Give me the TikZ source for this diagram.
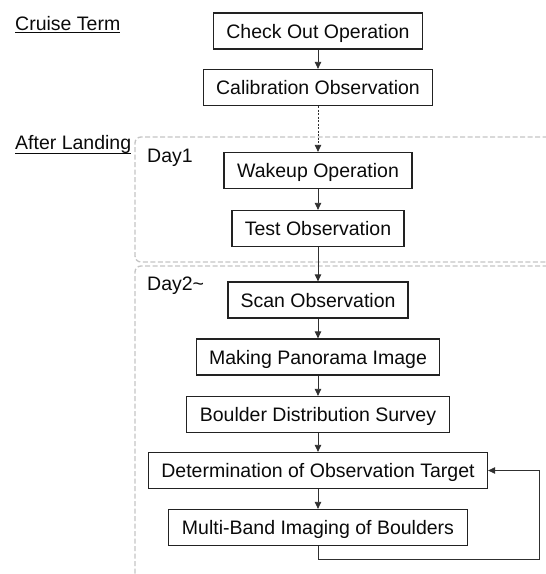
\documentclass[tikz,border=0pt]{standalone}
\usepackage{fontspec}
\setmainfont{Liberation Sans}
\usetikzlibrary{arrows.meta}
\definecolor{boxc}{HTML}{222222}
\definecolor{linec}{HTML}{303030}
\definecolor{framec}{HTML}{C4C4C4}
\definecolor{txt}{HTML}{0A0A0A}
\begin{document}
\begin{tikzpicture}[x=1pt,y=-1pt,
 box/.style={draw=boxc,line width=1.3pt,minimum height=36pt,inner xsep=0pt,inner ysep=0pt,text height=14pt,text depth=0pt,font=\fontsize{19.5}{23}\selectfont,text=txt},
 lbl/.style={anchor=base west,inner sep=0pt,font=\fontsize{19.5}{23}\selectfont,text=txt},
 arr/.style={draw=linec,line width=0.8pt,-{Triangle[length=7pt,width=6.5pt]}},
 frame/.style={draw=framec,line width=1.3pt,dash pattern=on 5pt off 2.5pt,rounded corners=6pt},
 uline/.style={draw=txt,line width=1pt}]
\useasboundingbox (0,0) rectangle (546,574);
\begin{scope}
\clip (0,0) rectangle (546,574);
\draw[frame] (570,137) -- (135,137) -- (135,262) -- (570,262);
\draw[frame] (570,266) -- (135,266) -- (135,600);
\end{scope}
% labels
\node[lbl] (ct) at (15,30) {Cruise Term};
\node[lbl] (al) at (15,149) {After Landing};
\node[lbl] (d1) at (147,162) {Day1};
\node[lbl] (d2) at (147,290) {Day2\textasciitilde};
\draw[uline] ([yshift=-2.5pt]ct.base west) -- ([yshift=-2.5pt]ct.base east);
\draw[uline] ([yshift=-4pt]al.base west) -- ([yshift=-4pt]al.base east);
% boxes
\node[box,minimum width=209pt] (co) at (318,31) {Check Out Operation};
\node[box,minimum width=229pt] (cal) at (318,87.5) {Calibration Observation};
\node[box,minimum width=188pt] (wk) at (318,170.5) {Wakeup Operation};
\node[box,minimum width=172pt] (te) at (318,228.5) {Test Observation};
\node[box,minimum width=180pt] (sc) at (318,300) {Scan Observation};
\node[box,minimum width=243pt] (mp) at (318,357) {Making Panorama Image};
\node[box,minimum width=263pt] (bd) at (318,414.5) {Boulder Distribution Survey};
\node[box,minimum width=339pt] (dt) at (318,470.5) {Determination of Observation Target};
\node[box,minimum width=299pt] (mb) at (318,527.5) {Multi-Band Imaging of Boulders};
% connectors
\draw[arr] (co) -- (cal);
\draw[arr,dash pattern=on 2pt off 1.5pt] (cal) -- (wk);
\draw[arr] (wk) -- (te);
\draw[arr] (te) -- (sc);
\draw[arr] (sc) -- (mp);
\draw[arr] (mp) -- (bd);
\draw[arr] (bd) -- (dt);
\draw[arr] (dt) -- (mb);
\coordinate (lp) at (539,559);
\draw[arr] (mb.south) |- (lp) |- (dt.east);
\end{tikzpicture}
\end{document}
